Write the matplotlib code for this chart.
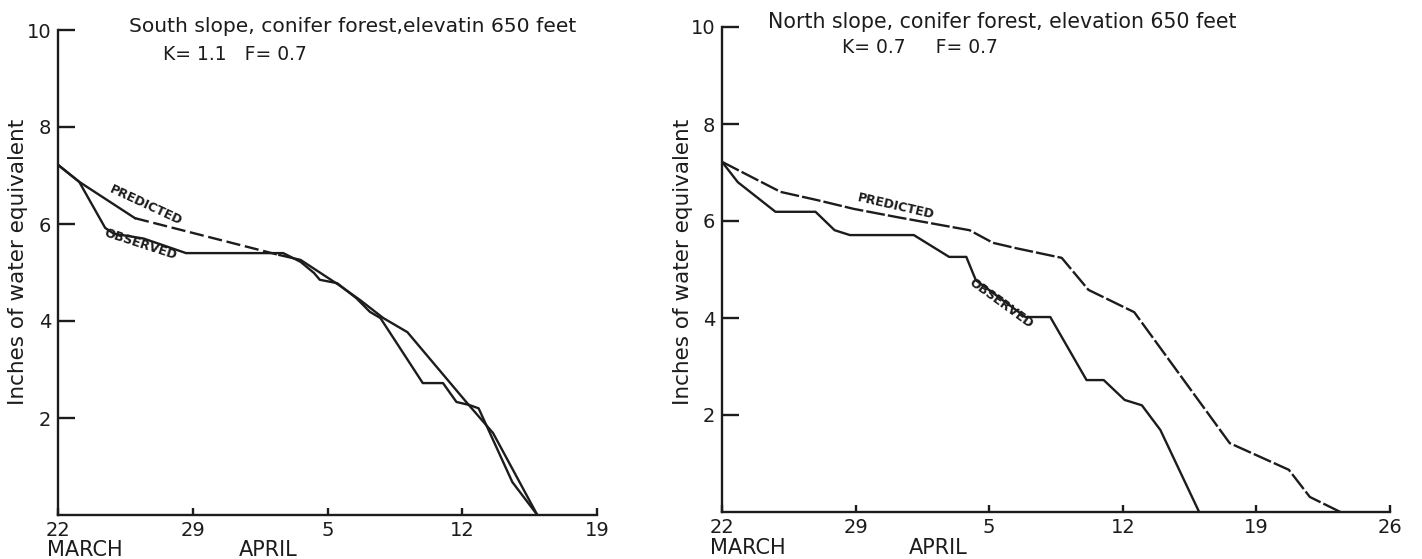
import matplotlib
matplotlib.use("Agg")
import matplotlib.pyplot as plt

plt.rcParams['font.family'] = ['DejaVu Sans']

# ---------------- data (days after 22 March, inches of water equivalent) -------------
south_pred_days = [0, 1.1, 4.0, 11.5, 12.6, 14.6, 15.7, 16.9, 18.15, 21.25, 22.6, 24.9]
south_pred_vals = [7.22, 6.87, 6.12, 5.36, 5.26, 4.74, 4.43, 4.06, 3.77, 2.31, 1.69, 0.0]

south_obs_days = [0, 1.1, 2.45, 2.9, 4.45, 6.65, 11.7, 12.6, 13.3, 13.6, 14.5, 15.5, 16.2,
                  16.75, 18.95, 20.0, 20.7, 21.35, 21.85, 23.6, 24.9]
south_obs_vals = [7.22, 6.87, 5.92, 5.8, 5.7, 5.4, 5.4, 5.22, 4.99, 4.85, 4.78, 4.47, 4.19,
                  4.06, 2.72, 2.72, 2.33, 2.27, 2.2, 0.68, 0.0]

north_pred_days = [0, 3.07, 5.0, 6.9, 9.17, 12.97, 14.2, 15.4, 17.8, 19.2, 21.6, 26.6,
                   29.7, 30.8, 32.4]
north_pred_vals = [7.22, 6.6, 6.43, 6.25, 6.08, 5.81, 5.55, 5.44, 5.24, 4.58, 4.12, 1.42,
                   0.87, 0.31, 0.0]

north_obs_days = [0, 0.83, 2.8, 4.9, 5.9, 6.7, 10.05, 11.9, 12.8, 13.3, 15.9, 17.2, 19.1,
                  20.0, 21.1, 22.0, 22.97, 25.0]
north_obs_vals = [7.22, 6.8, 6.19, 6.19, 5.81, 5.71, 5.71, 5.26, 5.26, 4.78, 4.02, 4.02,
                  2.72, 2.72, 2.31, 2.2, 1.69, 0.0]

south_xticks = [0, 7, 14, 21, 28]
south_xlabels = ['22', '29', '5', '12', '19']
north_xticks = [0, 7, 14, 21, 28, 35]
north_xlabels = ['22', '29', '5', '12', '19', '26']
yticks = [2, 4, 6, 8, 10]
ylabels = ['2', '4', '6', '8', '10']

south_title = "South slope, conifer forest,elevatin 650 feet"
south_params = "K= 1.1   F= 0.7"
north_title = "North slope, conifer forest, elevation 650 feet"
north_params = "K= 0.7     F= 0.7"
ylabel = "Inches of water equivalent"

# ---------------- layout ----------------
W, H = 1422, 559
INK = '#1c1c1c'
fig = plt.figure(figsize=(W / 100, H / 100), dpi=100)
fig.patch.set_facecolor('white')


def fx(px):
    return px / W


def fy(py):
    return 1 - py / H


ax1 = fig.add_axes([fx(58), fy(515), (597 - 58) / W, 485 / H])
ax2 = fig.add_axes([fx(722), fy(512), (1390 - 722) / W, 485 / H])


def style(ax, xmax, xt, xl):
    ax.set_xlim(0, xmax)
    ax.set_ylim(0, 10)
    for s in ['top', 'right']:
        ax.spines[s].set_visible(False)
    for s in ['left', 'bottom']:
        ax.spines[s].set_linewidth(1.7)
        ax.spines[s].set_color(INK)
    ax.set_xticks(xt)
    ax.set_xticklabels(xl)
    ax.set_yticks(yticks)
    ax.set_yticklabels(ylabels)
    ax.tick_params(axis='y', direction='in', length=12, width=1.7, color=INK,
                   labelsize=14, pad=5, labelcolor=INK)
    ax.tick_params(axis='x', direction='in', length=5, width=1.7, color=INK,
                   labelsize=14, pad=4, labelcolor=INK)
    ax.patch.set_alpha(0)


style(ax1, 28, south_xticks, south_xlabels)
style(ax2, 35, north_xticks, north_xlabels)

LW = 1.7
# south panel
ax1.plot(south_obs_days, south_obs_vals, color=INK, lw=LW)
ax1.plot(south_pred_days[:3], south_pred_vals[:3], color=INK, lw=LW)
ax1.plot(south_pred_days[2:4], south_pred_vals[2:4], color=INK, lw=LW,
         linestyle=(0, (6, 2)))
ax1.plot(south_pred_days[3:], south_pred_vals[3:], color=INK, lw=LW)

# north panel
ax2.plot(north_obs_days, north_obs_vals, color=INK, lw=LW)
ax2.plot(north_pred_days, north_pred_vals, color=INK, lw=LW, linestyle=(0, (8, 1.3)))

# line labels
lab = dict(fontsize=9, color=INK, ha='center', va='center', rotation_mode='anchor',
           fontweight='bold')
ax1.text(4.55, 6.38, 'PREDICTED', rotation=-25, **lab)
ax1.text(4.3, 5.57, 'OBSERVED', rotation=-18, **lab)
ax2.text(9.1, 6.3, 'PREDICTED', rotation=-13, **lab)
ax2.text(14.6, 4.3, 'OBSERVED', rotation=-36, **lab)

# titles
fig.text(fx(353), fy(32), south_title, fontsize=14.6, ha='center', va='baseline', color=INK)
fig.text(fx(235), fy(60), south_params, fontsize=13.5, ha='center', va='baseline', color=INK)
fig.text(fx(1002), fy(28), north_title, fontsize=14.8, ha='center', va='baseline', color=INK)
fig.text(fx(920), fy(53), north_params, fontsize=13.5, ha='center', va='baseline', color=INK)

# y labels
fig.text(fx(18), fy(262), ylabel, rotation=90, fontsize=15.5, ha='center', va='center',
         color=INK)
fig.text(fx(683), fy(262), ylabel, rotation=90, fontsize=15.5, ha='center', va='center',
         color=INK)

# month labels
fig.text(fx(47), fy(556), 'MARCH', fontsize=15, ha='left', va='baseline', color=INK)
fig.text(fx(268), fy(556), 'APRIL', fontsize=15, ha='center', va='baseline', color=INK)
fig.text(fx(710), fy(554), 'MARCH', fontsize=15, ha='left', va='baseline', color=INK)
fig.text(fx(938), fy(554), 'APRIL', fontsize=15, ha='center', va='baseline', color=INK)

fig.savefig('out.png', dpi=100, facecolor='white')
